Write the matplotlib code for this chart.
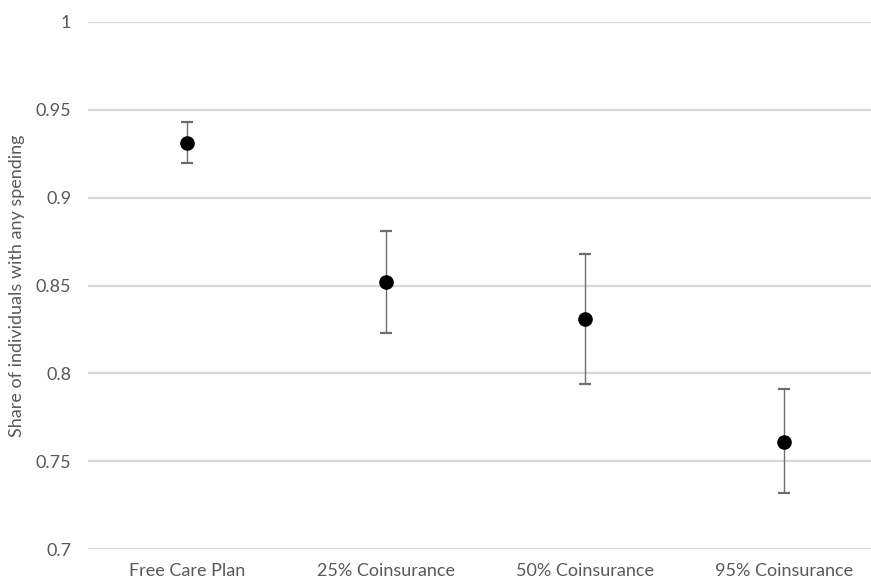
import matplotlib
matplotlib.use("Agg")
import matplotlib.pyplot as plt
import numpy as np

plt.rcParams['font.family'] = ['Lato', 'DejaVu Sans']

# data
plans = ["Free Care Plan", "25% Coinsurance", "50% Coinsurance", "95% Coinsurance"]
share = [0.931, 0.852, 0.831, 0.761]
upper = [0.943, 0.881, 0.868, 0.791]
lower = [0.920, 0.823, 0.794, 0.732]

yticks = [0.7, 0.75, 0.8, 0.85, 0.9, 0.95, 1.0]
ytick_labels = ["0.7", "0.75", "0.8", "0.85", "0.9", "0.95", "1"]

share = np.array(share)
err = [share - np.array(lower), np.array(upper) - share]
x = np.arange(len(plans))

fig = plt.figure(figsize=(8.71, 5.82), dpi=100)
ax = fig.add_axes([88/871, 1 - 549/582, (883 - 88)/871, (549 - 22)/582])

ax.errorbar(x, share, yerr=err, fmt='o', color='black', markersize=9.5,
            ecolor='#6e6e6e', elinewidth=1.0, capsize=4, capthick=1.6, zorder=3)

ax.set_xlim(-0.5, len(plans) - 0.5)
ax.set_ylim(0.7, 1.0)
ax.set_yticks(yticks)
ax.set_yticklabels(ytick_labels)
ax.set_xticks(x)
ax.set_xticklabels(plans)
ax.grid(axis='y', color='#d9d9d9', linewidth=1.6)
ax.set_axisbelow(True)
for s in ax.spines.values():
    s.set_visible(False)
ax.tick_params(axis='both', length=0, colors='#595959', labelsize=13)
ax.tick_params(axis='y', pad=12)
ax.tick_params(axis='x', pad=10)
ax.set_ylabel("Share of individuals with any spending", color='#595959', fontsize=13, labelpad=8)

fig.savefig("out.png", dpi=100)
